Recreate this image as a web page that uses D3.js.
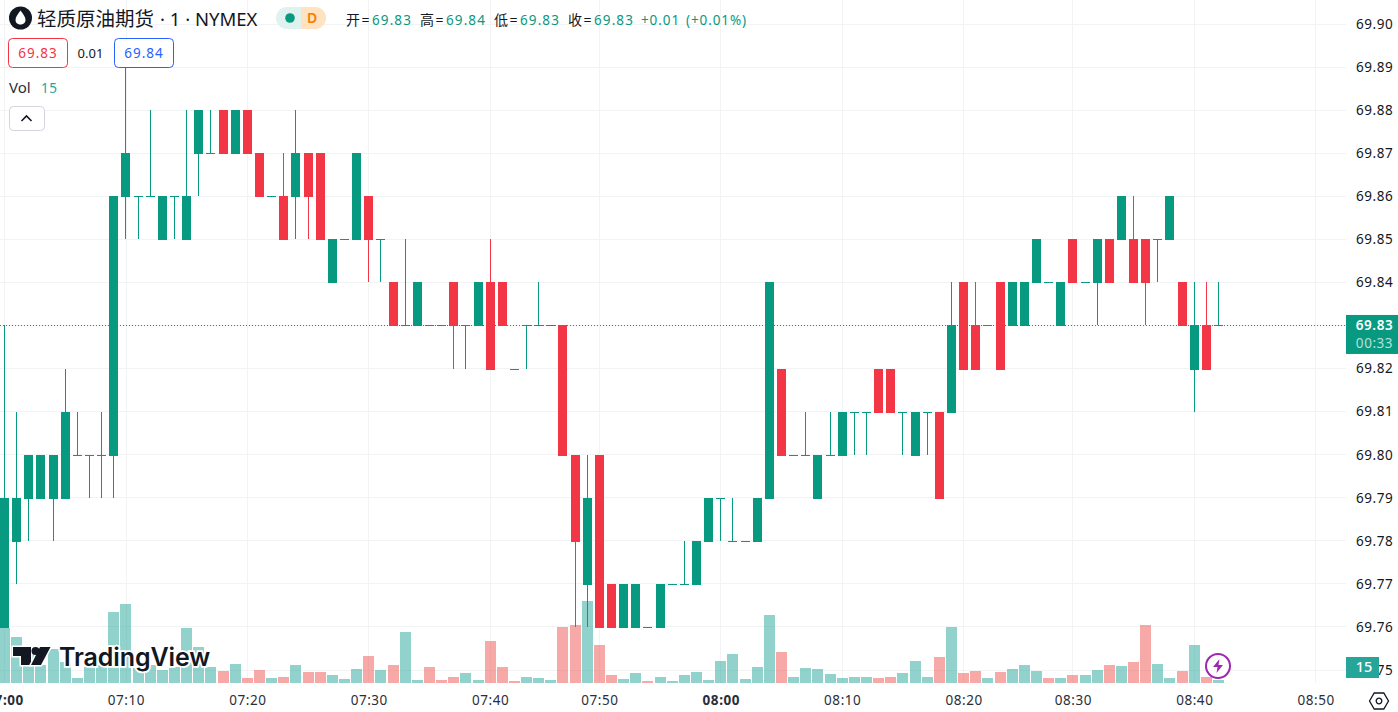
<!DOCTYPE html>
<html>
<head>
<meta charset="utf-8">
<script src="https://cdn.jsdelivr.net/npm/d3@7"></script>
<style>
  html, body { margin: 0; padding: 0; background: #fff; overflow: hidden; }
  svg { display: block; }
  text { font-family: "Noto Sans", "Noto Sans CJK SC", sans-serif; }
</style>
</head>
<body>
<script>
var opens = [69.76,69.78,69.79,69.79,69.79,69.79,69.80,69.80,69.80,69.80,69.86,69.86,69.86,69.85,69.86,69.85,69.87,69.87,69.88,69.87,69.88,69.87,69.86,69.86,69.86,69.87,69.87,69.84,69.85,69.85,69.86,69.85,69.84,
  69.83,69.83,69.83,69.83,69.84,69.83,69.83,69.84,69.84,69.82,69.83,69.83,69.83,69.83,69.80,69.77,69.80,69.77,69.76,69.76,69.76,69.76,69.77,69.77,69.77,69.78,69.79,69.78,69.78,69.78,69.79,69.82,69.80,
  69.80,69.79,69.80,69.80,69.81,69.81,69.82,69.82,69.81,69.80,69.81,69.81,69.81,69.84,69.83,69.83,69.84,69.83,69.83,69.84,69.84,69.83,69.85,69.84,69.84,69.85,69.85,69.85,69.85,69.85,69.85,69.84,69.82,69.83,69.83];
var closes = [69.79,69.79,69.80,69.80,69.80,69.81,69.80,69.80,69.80,69.86,69.87,69.86,69.86,69.86,69.86,69.86,69.88,69.87,69.87,69.88,69.87,69.86,69.86,69.85,69.87,69.86,69.85,69.85,69.85,69.87,69.85,69.85,69.83,
  69.83,69.84,69.83,69.83,69.83,69.83,69.84,69.82,69.83,69.82,69.83,69.83,69.83,69.80,69.78,69.79,69.76,69.76,69.77,69.77,69.76,69.77,69.77,69.77,69.78,69.79,69.79,69.78,69.78,69.79,69.84,69.80,69.80,
  69.80,69.80,69.80,69.81,69.81,69.81,69.81,69.81,69.81,69.81,69.81,69.79,69.83,69.82,69.82,69.83,69.82,69.84,69.84,69.85,69.84,69.84,69.84,69.84,69.85,69.84,69.86,69.84,69.84,69.85,69.86,69.83,69.83,69.82,69.83];
var highs = [69.83,69.81,69.80,69.80,69.80,69.82,69.81,69.80,69.81,69.86,69.89,69.86,69.88,69.86,69.86,69.88,69.88,69.88,69.88,69.88,69.88,69.87,69.86,69.87,69.88,69.87,69.87,69.85,69.85,69.87,69.86,69.85,69.84,
  69.85,69.84,69.83,69.83,69.84,69.83,69.84,69.85,69.84,69.82,69.83,69.84,69.83,69.83,69.80,69.80,69.80,69.77,69.77,69.77,69.76,69.77,69.77,69.78,69.78,69.79,69.79,69.79,69.78,69.79,69.84,69.82,69.80,
  69.81,69.80,69.81,69.81,69.81,69.81,69.82,69.82,69.81,69.81,69.81,69.81,69.84,69.84,69.84,69.83,69.84,69.84,69.84,69.85,69.84,69.84,69.85,69.84,69.85,69.85,69.86,69.86,69.85,69.85,69.86,69.84,69.84,69.84,69.84];
var lows = [69.76,69.77,69.78,69.79,69.78,69.79,69.80,69.79,69.79,69.79,69.85,69.85,69.86,69.85,69.85,69.85,69.86,69.87,69.87,69.87,69.87,69.86,69.86,69.85,69.85,69.85,69.85,69.84,69.85,69.85,69.84,69.84,69.83,
  69.83,69.83,69.83,69.83,69.82,69.82,69.83,69.82,69.83,69.82,69.82,69.83,69.83,69.80,69.76,69.76,69.76,69.76,69.76,69.76,69.76,69.76,69.77,69.77,69.77,69.78,69.78,69.78,69.78,69.78,69.79,69.80,69.80,
  69.80,69.79,69.80,69.80,69.80,69.80,69.81,69.81,69.80,69.80,69.80,69.79,69.81,69.82,69.82,69.83,69.82,69.83,69.83,69.84,69.84,69.83,69.84,69.84,69.83,69.84,69.85,69.84,69.83,69.84,69.85,69.83,69.81,69.82,69.83];
var volumes = [275,230,145,90,170,105,25,80,90,355,395,75,90,65,80,275,180,80,60,95,25,65,25,30,90,55,55,40,20,70,135,65,90,
  255,15,80,15,30,50,15,210,80,10,30,25,15,280,290,410,190,40,20,50,10,30,10,40,55,15,110,145,20,80,340,155,30,
  75,70,45,25,30,30,25,30,50,110,30,130,280,50,60,25,55,70,90,60,25,25,40,40,65,90,85,105,290,95,25,60,190,30,15];
var redVolumes = [18,20,21,23,25,26,30,32,35,36,37,40,41,42,46,47,49,50,53,64,72,73,77,79,80,82,86,88,91,93,94,97,99];

var priceTicks = [69.90,69.89,69.88,69.87,69.86,69.85,69.84,69.83,69.82,69.81,69.80,69.79,69.78,69.77,69.76,69.75];
var timeIndex = [0,10,20,30,40,49,59,69,79,88,98,108];
var timeLabels = ['07:00','07:10','07:20','07:30','07:40','07:50','08:00','08:10','08:20','08:30','08:40','08:50'];
var boldLabels = ['07:00','08:00'];
var lastPrice = 69.83;

var GREEN = '#089981', RED = '#f23645', TEAL = '#26a69a', VOLRED = '#ef5350', GRID = '#f2f3f5', INK = '#131722';

var width = 1398, height = 712, plotRight = 1346, plotBottom = 683;

var svg = d3.select('body').append('svg')
  .attr('width', width)
  .attr('height', height);

var x = d3.scaleLinear().domain([0, 100]).range([4.55, 1218.55]);
var y = d3.scaleLinear().domain([69.75, 69.90]).range([670, 24]);
var v = d3.scaleLinear().domain([0, 410]).range([plotBottom, plotBottom - 82]);

svg.append('defs').append('clipPath').attr('id', 'plot')
  .append('rect').attr('width', plotRight).attr('height', plotBottom);

// grid
var grid = svg.append('g');
grid.selectAll('.h').data(priceTicks).enter().append('line')
  .attr('x1', 0).attr('x2', plotRight)
  .attr('y1', function(d) { return Math.floor(y(d)) + 0.5; })
  .attr('y2', function(d) { return Math.floor(y(d)) + 0.5; })
  .attr('stroke', GRID);
grid.selectAll('.v').data(timeIndex).enter().append('line')
  .attr('y1', 0).attr('y2', plotBottom)
  .attr('x1', function(d) { return Math.floor(x(d) + 0.1) + 0.5; })
  .attr('x2', function(d) { return Math.floor(x(d) + 0.1) + 0.5; })
  .attr('stroke', GRID);

var plot = svg.append('g').attr('clip-path', 'url(#plot)');

// volume
plot.selectAll('.vol').data(volumes).enter().append('rect')
  .attr('x', function(d, i) { return Math.round(x(i) - 4.5) - 1; })
  .attr('width', 11)
  .attr('y', function(d) { return v(d); })
  .attr('height', function(d) { return plotBottom - v(d); })
  .attr('fill', function(d, i) { return redVolumes.indexOf(i) >= 0 ? VOLRED : TEAL; })
  .attr('fill-opacity', 0.5);

// last price line
plot.append('line')
  .attr('x1', 0).attr('x2', plotRight)
  .attr('y1', Math.floor(y(lastPrice)) + 0.5).attr('y2', Math.floor(y(lastPrice)) + 0.5)
  .attr('stroke', GREEN)
  .attr('stroke-dasharray', '1 2');

// candles
function candleColor(i) { return closes[i] >= opens[i] ? GREEN : RED; }

plot.selectAll('.wick').data(opens).enter().append('rect')
  .attr('x', function(d, i) { return Math.round(x(i) - 4.5) + 4; })
  .attr('width', 1)
  .attr('y', function(d, i) { return Math.round(y(highs[i])); })
  .attr('height', function(d, i) { return Math.round(y(lows[i])) - Math.round(y(highs[i])); })
  .attr('fill', function(d, i) { return candleColor(i); });

plot.selectAll('.body').data(opens).enter().append('rect')
  .attr('x', function(d, i) { return Math.round(x(i) - 4.5); })
  .attr('width', 9)
  .attr('y', function(d, i) { return Math.round(y(Math.max(opens[i], closes[i]))); })
  .attr('height', function(d, i) {
    return Math.max(1, Math.round(y(Math.min(opens[i], closes[i]))) - Math.round(y(Math.max(opens[i], closes[i]))) + 1);
  })
  .attr('fill', function(d, i) { return candleColor(i); });

// axes
var yAxis = d3.axisRight(y).tickValues(priceTicks).tickFormat(d3.format('.2f')).tickSize(0).tickPadding(0);
var yg = svg.append('g').attr('transform', 'translate(1356,-0.5)').call(yAxis);
yg.select('.domain').remove();
yg.selectAll('text').attr('font-size', 13.5).attr('fill', INK).style('letter-spacing', '0.55px')
  .attr('dy', '0.36em');

var xAxis = d3.axisBottom(x).tickValues(timeIndex)
  .tickFormat(function(d, i) { return timeLabels[i]; }).tickSize(0).tickPadding(0);
var xg = svg.append('g').attr('transform', 'translate(0,695)').call(xAxis);
xg.select('.domain').remove();
xg.selectAll('text').attr('font-size', 13.5).attr('fill', '#2a2e39').style('letter-spacing', '0.55px')
  .attr('dy', '0.71em')
  .attr('font-weight', function(d, i) { return boldLabels.indexOf(timeLabels[i]) >= 0 ? 700 : 400; });

// volume badge sits over the 69.75 tick
svg.append('rect').attr('x', 1346).attr('y', y(69.75) - 13).attr('width', 33).attr('height', 21).attr('fill', TEAL);
svg.append('text').attr('x', 1364).attr('y', y(69.75) + 2).attr('text-anchor', 'middle')
  .attr('font-size', 14.5).attr('font-weight', 500).attr('fill', '#fff').text(volumes[100]);

// last price label
svg.append('rect').attr('x', 1346).attr('y', y(lastPrice) - 10.5).attr('width', 52).attr('height', 39).attr('fill', GREEN);
svg.append('text').attr('x', 1374.5).attr('y', y(lastPrice) + 5).attr('text-anchor', 'middle')
  .attr('font-size', 13.5).attr('font-weight', 600).attr('fill', '#fff').style('letter-spacing', '0.55px').text('69.83');
svg.append('text').attr('x', 1374.5).attr('y', y(lastPrice) + 23).attr('text-anchor', 'middle')
  .attr('font-size', 13.5).attr('fill', '#b5e0d9').style('letter-spacing', '0.55px').text('00:33');

// settings hexagon
var hex = svg.append('g').attr('transform', 'translate(1379,701)').attr('fill', 'none').attr('stroke', INK).attr('stroke-width', 1.3);
hex.append('path').attr('d', 'M-9.5 0L-4.8 -8L4.8 -8L9.5 0L4.8 8L-4.8 8Z');
hex.append('circle').attr('r', 2.8);

// header
svg.append('circle').attr('cx', 20.5).attr('cy', 18).attr('r', 11.5).attr('fill', INK);
svg.append('path').attr('d', 'M20.5 10.5C23.5 14.5 25.5 17 25.5 20C25.5 23 23 24.5 20.5 24.5C18 24.5 15.5 23 15.5 20C15.5 17 17.5 14.5 20.5 10.5Z').attr('fill', '#fff');

svg.append('text').attr('x', 37).attr('y', 26).attr('font-size', 19.5).attr('fill', INK).text('轻质原油期货');
svg.append('text').attr('x', 160).attr('y', 26).attr('font-size', 18.5).attr('fill', INK).text('· 1 · NYMEX');

// status pill
svg.append('path').attr('d', 'M301 7H287a11 11 0 0 0 0 22H301Z').attr('fill', '#dff2ef');
svg.append('path').attr('d', 'M301 7H315a11 11 0 0 1 0 22H301Z').attr('fill', '#ffe2bf');
svg.append('circle').attr('cx', 290).attr('cy', 18).attr('r', 4.8).attr('fill', GREEN);
svg.append('text').attr('x', 312).attr('y', 23).attr('text-anchor', 'middle').attr('font-size', 14).attr('font-weight', 600).attr('fill', '#f57c00').text('D');

// OHLC row
var ohlcLabels = ['开=', '高=', '低=', '收='];
var ohlcValues = ['69.83', '69.84', '69.83', '69.83'];
var ohlcX = [346, 420, 494, 568];
ohlcLabels.forEach(function(d, i) {
  svg.append('text').attr('x', ohlcX[i]).attr('y', 25).attr('font-size', 14).attr('fill', INK)
    .style('letter-spacing', '1.5px').text(d);
  svg.append('text').attr('x', ohlcX[i] + 26).attr('y', 25).attr('font-size', 13.5).attr('fill', GREEN)
    .style('letter-spacing', '1.1px').text(ohlcValues[i]);
});
svg.append('text').attr('x', 641).attr('y', 25).attr('font-size', 13.5).attr('fill', GREEN)
  .style('letter-spacing', '0.9px').text('+0.01');
svg.append('text').attr('x', 686).attr('y', 25).attr('font-size', 13.5).attr('fill', GREEN)
  .style('letter-spacing', '0.9px').text('(+0.01%)');

// bid / ask boxes
function priceBox(bx, color, label) {
  svg.append('rect').attr('x', bx + 0.5).attr('y', 38.5).attr('width', 59).attr('height', 29).attr('rx', 4)
    .attr('fill', '#fff').attr('stroke', color);
  svg.append('text').attr('x', bx + 30).attr('y', 58).attr('text-anchor', 'middle').attr('font-size', 13.5)
    .attr('fill', color).style('letter-spacing', '1px').text(label);
}
priceBox(8, RED, '69.83');
svg.append('text').attr('x', 90.5).attr('y', 58).attr('text-anchor', 'middle').attr('font-size', 13).attr('fill', INK).text('0.01');
priceBox(114, '#2962ff', '69.84');

// volume legend
svg.append('text').attr('x', 9).attr('y', 93).attr('font-size', 15).attr('fill', '#2a2e39').text('Vol');
svg.append('text').attr('x', 41).attr('y', 93).attr('font-size', 13.5).attr('fill', TEAL).style('letter-spacing', '0.55px').text(volumes[100]);
svg.append('rect').attr('x', 9.5).attr('y', 106.5).attr('width', 35).attr('height', 24).attr('rx', 4)
  .attr('fill', '#fff').attr('stroke', '#d1d4dc');
svg.append('path').attr('d', 'M21.5 121L26.5 116L31.5 121').attr('fill', 'none').attr('stroke', INK).attr('stroke-width', 1.6);

// watermark
var logo = svg.append('g');
var logoParts = [
  'M13 647H31V665H21V656H13Z',
  'M40 647H50.5L41 665H31Z'
];
logo.selectAll('path').data(logoParts).enter().append('path').attr('d', function(d) { return d; })
  .attr('fill', INK).attr('stroke', '#fff').attr('stroke-width', 3).style('paint-order', 'stroke');
logo.append('circle').attr('cx', 35.5).attr('cy', 651).attr('r', 4).attr('fill', INK);
logo.append('text').attr('x', 59).attr('y', 666).attr('font-size', 25).attr('font-weight', 600)
  .attr('fill', INK).attr('stroke', '#fff').attr('stroke-width', 3.5).style('paint-order', 'stroke')
  .style('font-family', 'Inter, sans-serif').style('letter-spacing', '-0.1px').text('TradingView');

// lightning marker
var bolt = svg.append('g').attr('transform', 'translate(1218,666)');
bolt.append('circle').attr('r', 12).attr('fill', '#fff').attr('fill-opacity', 0.7).attr('stroke', '#9c27b0').attr('stroke-width', 2);
bolt.append('path').attr('d', 'M1.5 -7L-5 1H-0.5L-1.5 7L5 -1H0.5Z').attr('fill', '#9c27b0');
</script>
</body>
</html>
